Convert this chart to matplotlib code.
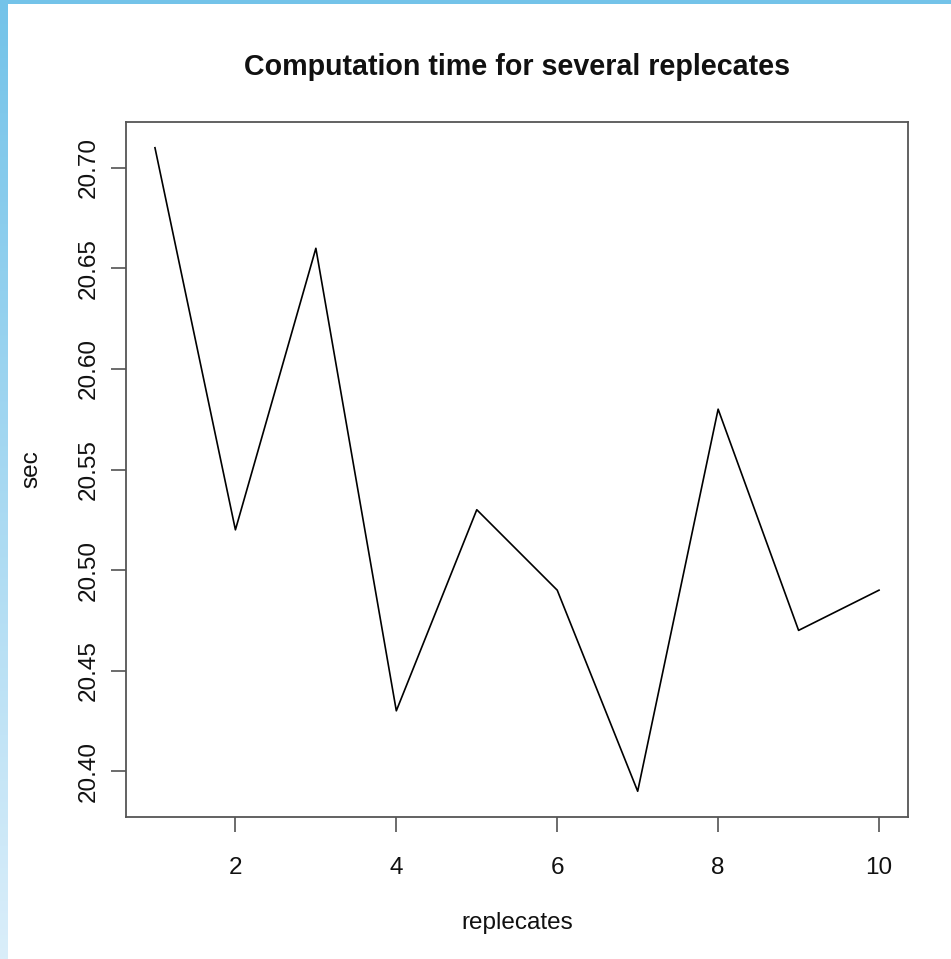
import numpy as np
import matplotlib
matplotlib.use("Agg")
import matplotlib.pyplot as plt
from matplotlib.patches import Rectangle

replicates = [1, 2, 3, 4, 5, 6, 7, 8, 9, 10]
seconds = [20.71, 20.52, 20.66, 20.43, 20.53, 20.49, 20.39, 20.58, 20.47, 20.49]
xticks = [2, 4, 6, 8, 10]
yticks = [20.40, 20.45, 20.50, 20.55, 20.60, 20.65, 20.70]

plt.rcParams['font.family'] = ['Liberation Sans', 'DejaVu Sans']

W, H = 951, 959
fig = plt.figure(figsize=(W / 100, H / 100), dpi=100)
fig.patch.set_facecolor('white')

# decorative blue border (top and left, left fades)
bg = fig.add_axes([0, 0, 1, 1], zorder=-10)
bg.axis('off')
grad = np.linspace(0, 1, 256)[:, None]
top_c = np.array([0x73, 0xC3, 0xE9]) / 255
bot_c = np.array([0xDA, 0xEE, 0xFA]) / 255
img = top_c[None, None, :] * (1 - grad[..., None]) + bot_c[None, None, :] * grad[..., None]
bg.imshow(img, extent=[0, 8, H, 0], aspect='auto', interpolation='bilinear')
bg.add_patch(Rectangle((0, 0), W, 4, color='#73C3E9', lw=0))
bg.set_xlim(0, W); bg.set_ylim(H, 0)

ax = fig.add_axes([126 / W, 1 - 817 / H, (908 - 126) / W, (817 - 122) / H])
ax.plot(replicates, seconds, color='black', lw=1.2)

xr = max(replicates) - min(replicates)
yr = max(seconds) - min(seconds)
ax.set_xlim(min(replicates) - 0.04 * xr, max(replicates) + 0.04 * xr)
ax.set_ylim(min(seconds) - 0.04 * yr, max(seconds) + 0.04 * yr)

ax.set_xticks(xticks)
ax.set_xticklabels([str(t) for t in xticks])
ax.set_yticks(yticks)
ax.set_yticklabels([f"{t:.2f}" for t in yticks], rotation=90, va='center')
ax.tick_params(axis='both', direction='out', length=11, width=1.1, color='#444444',
               labelsize=17.5, labelcolor='#111111')
ax.tick_params(axis='x', pad=18)
ax.tick_params(axis='y', pad=8)
for s in ax.spines.values():
    s.set_color('#555555')
    s.set_linewidth(1.3)

fig.text(517 / W, 1 - 923 / H, 'replecates', ha='center', va='center',
         fontsize=17.5, color='#111111')
fig.text(31 / W, 1 - 469 / H, 'sec', ha='center', va='center', rotation=90,
         fontsize=17.5, color='#111111')
fig.text(0.5 * (126 + 908) / W, 1 - 67 / H, 'Computation time for several replecates',
         ha='center', va='center', fontsize=20.6, fontweight='bold', color='#111111')

fig.savefig('out.png', dpi=100)
